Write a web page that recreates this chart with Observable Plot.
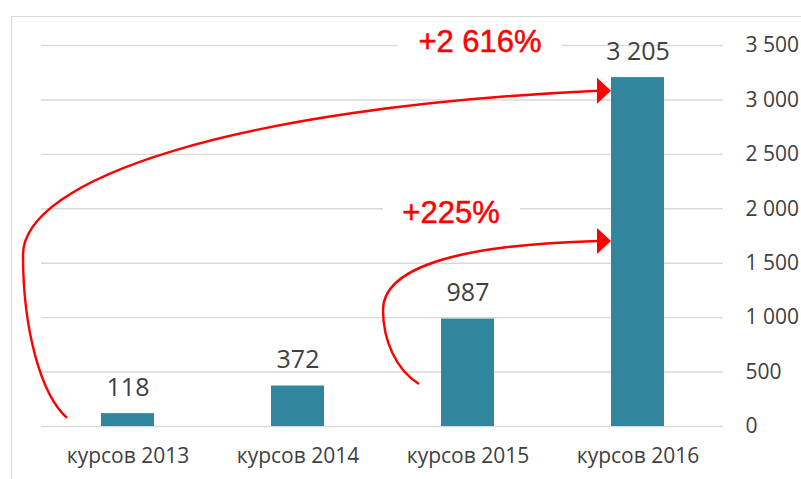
<!DOCTYPE html>
<html>
<head>
<meta charset="utf-8">
<script src="https://cdn.jsdelivr.net/npm/d3@7"></script>
<script src="https://cdn.jsdelivr.net/npm/@observablehq/plot@0.6"></script>
<style>
  html, body { margin: 0; padding: 0; background: #fff; }
  #wrap { position: relative; width: 801px; height: 479px; overflow: hidden; }
  #border { position: absolute; left: 11px; top: 16px; right: -5px; bottom: -5px;
            border-top: 1.5px solid #d9d9d9; border-left: 1.5px solid #d9d9d9; pointer-events: none; }
</style>
</head>
<body>
<div id="wrap"><div id="border"></div></div>
<script>
// ---- data ----
const categories = ["курсов 2013", "курсов 2014", "курсов 2015", "курсов 2016"];
const counts = [118, 372, 987, 3205];
const yTicks = [0, 500, 1000, 1500, 2000, 2500, 3000, 3500];
// growth annotations: from category/value -> to category/value
const growthLabels = ["+2 616%", "+225%"];
const growthFrom = ["курсов 2013", "курсов 2015"];
const growthFromValue = [75, 385];
const growthTo = ["курсов 2016", "курсов 2016"];
const growthToValue = [3080, 1700];
const growthLabelAt = [3500, 2000];

const fmt = d => d3.format(",")(d).replace(/,/g, " ");
const rows = categories.map((c, i) => ({cat: c, value: counts[i]}));

const FONT = "'Open Sans', 'Noto Sans', sans-serif";
const TEXT = "#404040";
const BAR = "#31859c";
const RED = "#ff0000";

function annotations(index, scales) {
  const x = scales.x, y = scales.y;
  const bw = typeof x.bandwidth === "function" ? x.bandwidth() : x.bandwidth;
  const g = d3.create("svg:g");
  // white boxes behind growth labels
  const boxes = [
    {cx: x("курсов 2015") + bw / 2 + 12, cy: y(growthLabelAt[0]) - 3, w: 164, h: 34},
    {cx: x("курсов 2015") + bw / 2 - 16, cy: y(growthLabelAt[1]) + 4, w: 137, h: 34}
  ];
  for (const b of boxes) {
    g.append("rect").attr("x", b.cx - b.w / 2).attr("y", b.cy - b.h / 2)
      .attr("width", b.w).attr("height", b.h).attr("fill", "#fff");
  }
  // curved arrows
  const shapes = [
    {sdx: -34, c1: [-26, -23], c2: [-44, -88], L: [-44, -163], c3: [0, -75], c4: [-367, 17]},
    {sdx: -22, c1: [-23, -14], c2: [-36, -44], L: [-36, -74], c3: [0, -40], c4: [-147, 4]}
  ];
  shapes.forEach((s, i) => {
    const Sx = x(growthFrom[i]) + s.sdx, Sy = y(growthFromValue[i]);
    const Ex = x(growthTo[i]), Ey = y(growthToValue[i]);
    const Bx = Ex - 14;
    const Lx = Sx + s.L[0], Ly = Sy + s.L[1];
    const d = `M${Sx},${Sy} C${Sx + s.c1[0]},${Sy + s.c1[1]} ${Sx + s.c2[0]},${Sy + s.c2[1]} ${Lx},${Ly}` +
      ` C${Lx + s.c3[0]},${Ly + s.c3[1]} ${Bx + s.c4[0]},${Ey + s.c4[1]} ${Bx + 1},${Ey}`;
    g.append("path").attr("d", d).attr("fill", "none").attr("stroke", RED).attr("stroke-width", 2.4);
    g.append("path").attr("d", `M${Ex},${Ey} L${Bx},${Ey - 13} L${Bx},${Ey + 13} Z`).attr("fill", RED);
  });
  return g.node();
}

const plot = Plot.plot({
  width: 801,
  height: 479,
  marginTop: 45,
  marginBottom: 53,
  marginLeft: 41,
  marginRight: 78,
  style: {background: "#fff", fontFamily: FONT, color: TEXT, overflow: "visible"},
  x: {domain: categories, paddingInner: 0.69, paddingOuter: 0.345, label: null},
  y: {domain: [0, 3500], label: null},
  marks: [
    Plot.ruleY(yTicks, {stroke: "#d9d9d9", strokeWidth: 1.4}),
    Plot.barY(rows, {x: "cat", y: "value", fill: BAR}),
    Plot.axisX({tickSize: 0, tickPadding: 22, fontSize: 21, fill: TEXT, label: null}),
    Plot.axisY({anchor: "right", ticks: yTicks, tickSize: 0, tickPadding: 22, tickFormat: fmt,
                fontSize: 21, fill: TEXT, textAnchor: "start", label: null}),
    Plot.text(rows, {x: "cat", y: "value", text: d => fmt(d.value), lineAnchor: "bottom",
                     dy: -18, fontSize: 25, fill: TEXT}),
    annotations,
    Plot.text([growthLabels[0]], {x: () => growthFrom[1], y: () => growthLabelAt[0], text: d => d,
      dx: 12, dy: -3, fontSize: 31, fill: RED, stroke: RED, strokeWidth: 0.5,
      fontFamily: "'Liberation Sans', Arial, sans-serif"}),
    Plot.text([growthLabels[1]], {x: () => growthFrom[1], y: () => growthLabelAt[1], text: d => d,
      dx: -17, dy: 4, fontSize: 31, fill: RED, stroke: RED, strokeWidth: 0.5,
      fontFamily: "'Liberation Sans', Arial, sans-serif"})
  ]
});
document.getElementById("wrap").insertBefore(plot, document.getElementById("border"));
</script>
</body>
</html>
